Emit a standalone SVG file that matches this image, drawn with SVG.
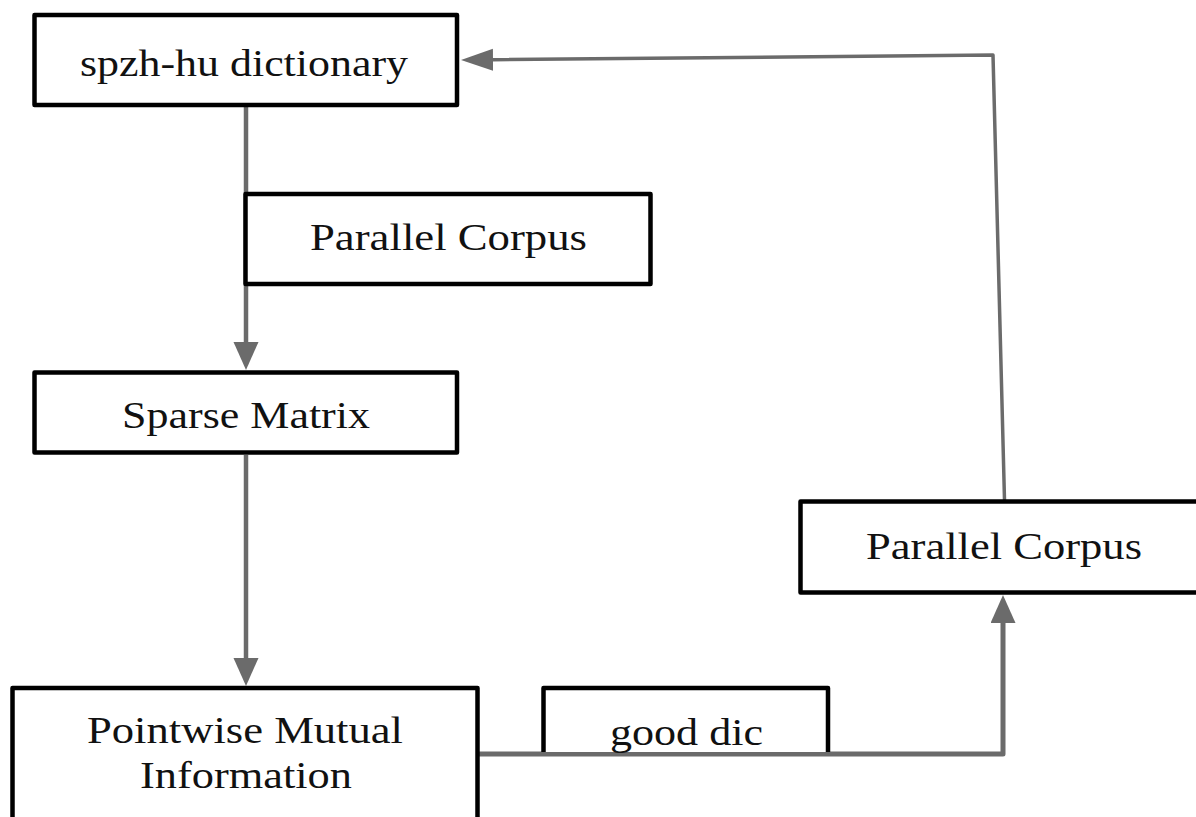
<svg xmlns="http://www.w3.org/2000/svg" width="1196" height="817" viewBox="0 0 1196 817">
<style>
.box{fill:#ffffff;stroke:#000000;stroke-width:4.5;stroke-linejoin:round}
.lbl{font-family:"Liberation Serif","Times New Roman",serif;font-size:37px;fill:#111111;text-anchor:middle}
.conn{fill:none;stroke:#6b6b6b;stroke-linejoin:round}
</style>
<defs>
<marker id="arrA" markerUnits="userSpaceOnUse" markerWidth="30" markerHeight="26" refX="0" refY="12.5" orient="auto">
<path d="M0,0 L28,12.5 L0,25 z" fill="#6b6b6b"/>
</marker>
<marker id="arrB" markerUnits="userSpaceOnUse" markerWidth="34" markerHeight="24" refX="0" refY="11" orient="auto">
<path d="M0,0 L32,11 L0,22 z" fill="#6b6b6b"/>
</marker>
</defs>
<rect width="1196" height="817" fill="#ffffff"/>
<g id="connectors">
<path class="conn" stroke-width="4.5" d="M246,107 V342" marker-end="url(#arrA)"/>
<path class="conn" stroke-width="4.5" d="M246,455 V658" marker-end="url(#arrA)"/>
<path class="conn" stroke-width="5" d="M479,754 H1003 V623" marker-end="url(#arrA)"/>
<path class="conn" stroke-width="3.5" d="M1004.5,500 L993,55 L493,59.7" marker-end="url(#arrB)"/>
</g>
<g id="n-dict">
<rect class="box" x="34.5" y="15" width="422.5" height="90"/>
<text class="lbl" x="244" y="76" textLength="328" lengthAdjust="spacingAndGlyphs">spzh-hu dictionary</text>
</g>
<g id="n-parallel1">
<rect class="box" x="245.5" y="194" width="405" height="90"/>
<text class="lbl" x="448.5" y="250" textLength="277" lengthAdjust="spacingAndGlyphs">Parallel Corpus</text>
</g>
<g id="n-sparse">
<rect class="box" x="34.5" y="372.5" width="422.5" height="80"/>
<text class="lbl" x="246" y="428" textLength="248" lengthAdjust="spacingAndGlyphs">Sparse Matrix</text>
</g>
<g id="n-pmi">
<rect class="box" x="12.5" y="688" width="465" height="160"/>
<text class="lbl" x="245" y="743" textLength="316" lengthAdjust="spacingAndGlyphs">Pointwise Mutual</text>
<text class="lbl" x="246" y="788" textLength="212" lengthAdjust="spacingAndGlyphs">Information</text>
</g>
<g id="n-gooddic">
<path class="box" d="M543.5,752 V688 H828 V752"/>
<text class="lbl" x="686.5" y="745" textLength="153" lengthAdjust="spacingAndGlyphs">good dic</text>
</g>
<g id="n-parallel2">
<rect class="box" x="800.5" y="501.5" width="410" height="91"/>
<text class="lbl" x="1004" y="559" textLength="276" lengthAdjust="spacingAndGlyphs">Parallel Corpus</text>
</g>
</svg>
